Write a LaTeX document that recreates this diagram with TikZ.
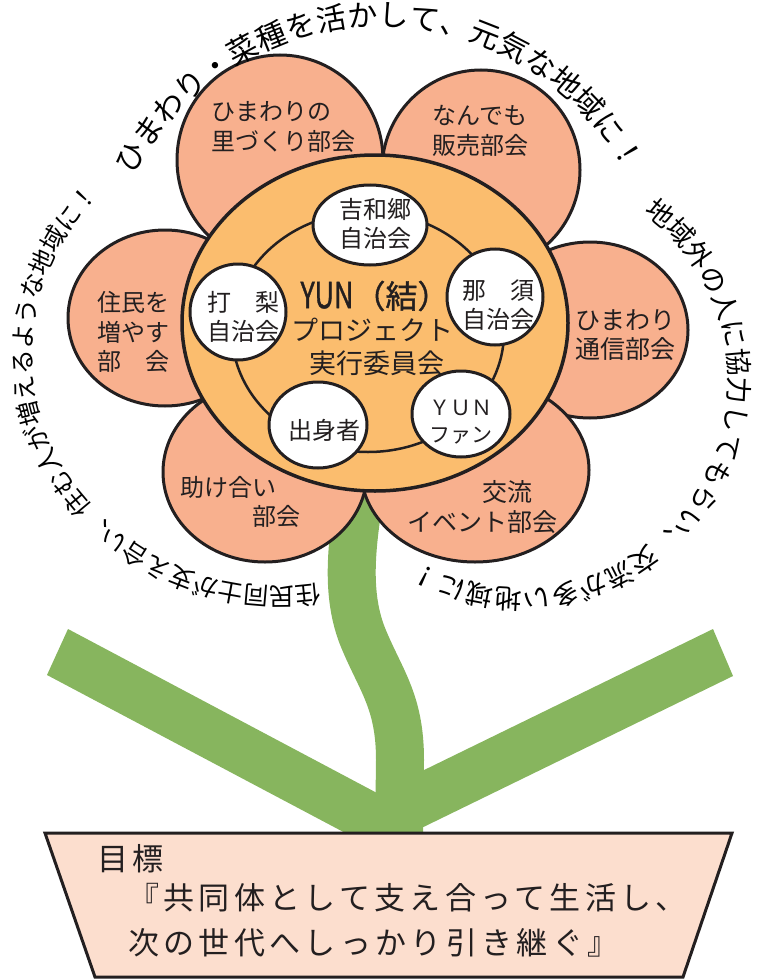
\documentclass[tikz,border=0pt]{standalone}
\usepackage{graphicx}
\usepackage{fontspec}
\setmainfont{Noto Sans CJK JP}
\usetikzlibrary{shapes.geometric}
\usetikzlibrary{decorations.text}
\usetikzlibrary{calc}

\definecolor{petalfill}{HTML}{F8B08E}
\definecolor{diskfill}{HTML}{FBBD6E}
\definecolor{stemgreen}{HTML}{87B55E}
\definecolor{potfill}{HTML}{FCDECE}
\definecolor{inkline}{HTML}{231F20}

\newcommand{\jfs}[2]{\fontsize{#1}{#2}\selectfont}
\newcommand{\toparcfont}{\jfs{30}{30}}
\newcommand{\rightarcfont}{\jfs{27}{27}}
\newcommand{\leftarcfont}{\jfs{25}{25}}
\newcommand{\potfont}{\jfs{31}{45}\addfontfeature{LetterSpace=14}}

\begin{document}
\begin{tikzpicture}[x=1pt, y=-1pt,
    petal/.style={ellipse, draw=inkline, fill=petalfill, line width=3pt, inner sep=0pt},
    disk/.style={ellipse, draw=inkline, fill=diskfill, line width=3.5pt, inner sep=0pt},
    ring/.style={ellipse, draw=inkline, line width=2.5pt, inner sep=0pt},
    member/.style={ellipse, draw=inkline, fill=white, line width=3pt, inner sep=0pt},
    ptext/.style={align=center, inner sep=0pt, text=inkline, font=\jfs{24}{30}},
    mtext/.style={align=center, inner sep=0pt, text=inkline, font=\jfs{24}{29}},
    arctext/.style={decorate, decoration={text along path, text align={fit to path}, raise=#1}}
  ]
  \useasboundingbox (0,0) rectangle (771,979);

  % leaves and stem
  \coordinate (leafLtop) at (68,629);
  \coordinate (leafLbot) at (47,675);
  \coordinate (leafRtop) at (713,629);
  \coordinate (leafRbot) at (733,676);
  \coordinate (notch) at (377,793);
  \coordinate (rootL) at (351,836);
  \coordinate (rootR) at (405,836);
  \fill[stemgreen] (leafLtop) -- (notch) -- (leafRtop) -- (leafRbot) -- (rootR) -- (rootL) -- (leafLbot) -- cycle;

  \coordinate (stemTop) at (362,480);
  \coordinate (stemMid) at (362,635);
  \coordinate (stemFoot) at (399,838);
  \draw[stemgreen, line width=48pt] (stemTop) .. controls (352,540) and (345,590) .. (stemMid)
      .. controls (380,680) and (400,700) .. (400,760) -- (stemFoot);

  % pot
  \coordinate (potTL) at (45,833);
  \coordinate (potTR) at (732,833);
  \coordinate (potBR) at (683,977);
  \coordinate (potBL) at (95,977);
  \draw[draw=inkline, fill=potfill, line width=3pt] (potTL) -- (potTR) -- (potBR) -- (potBL) -- cycle;
  \node[anchor=west, inner sep=0pt, text=inkline, font=\potfont] (goalHead) at (97,859) {目標};
  \node[anchor=west, align=left, inner sep=0pt, text=inkline, font=\potfont] (goalText) at (128,920)
    {『共同体として支え合って生活し、\\次の世代へしっかり引き継ぐ』};

  % petals
  \node[petal, minimum width=194pt, minimum height=176pt] (pJumin) at (165,318) {};
  \node[petal, minimum width=196pt, minimum height=176pt] (pTsushin) at (590,330) {};
  \node[petal, minimum width=206pt, minimum height=210pt] (pSato) at (280,160) {};
  \node[petal, minimum width=198pt, minimum height=200pt] (pHanbai) at (481,170) {};
  \node[petal, minimum width=204pt, minimum height=180pt] (pTasuke) at (265,472) {};
  \node[petal, minimum width=228pt, minimum height=184pt] (pKoryu) at (475,470) {};

  \node[ptext, align=left] (tSato) at (283,127) {ひまわりの\\里づくり部会};
  \node[ptext] (tHanbai) at (480,131) {なんでも\\販売部会};
  \node[ptext, font=\jfs{24}{29.5}] (tJumin) at (133,332) {住民を\\増やす\\部　会};
  \node[ptext, font=\jfs{25}{29}] (tTsushin) at (625,335) {ひまわり\\通信部会};
  \node[ptext, align=left, font=\jfs{24}{29}] (tTasuke) at (240,502) {助け合い\\　　　部会};
  \node[ptext, align=left, font=\jfs{25}{30}] (tKoryu) at (482,507) {　　　交流\\イベント部会};

  % centre disk
  \node[disk, minimum width=386pt, minimum height=336pt] (disk) at (375,323) {};
  \node[ring, minimum width=272pt, minimum height=240pt] (ring) at (368,332) {};

  \node[inner sep=0pt, text=inkline] (tYun) at (375,296)
    {\addfontfeature{FakeBold=1.2}\jfs{36}{36}\scalebox{0.75}[1]{YUN}\jfs{32}{32}（結）};
  \node[inner sep=0pt, text=inkline, font=\jfs{27}{27}] (tProj) at (372,330) {プロジェクト};
  \node[inner sep=0pt, text=inkline, font=\jfs{27}{27}] (tJikko) at (377,363) {実行委員会};

  \node[member, minimum width=114pt, minimum height=80pt] (mYoshi) at (370,225) {};
  \node[member, minimum size=96pt] (mUchi) at (238,312) {};
  \node[member, minimum size=96pt] (mNasu) at (495,297) {};
  \node[member, minimum width=98pt, minimum height=86pt] (mShusshin) at (318,425) {};
  \node[member, minimum width=98pt, minimum height=86pt] (mFan) at (461,414) {};

  \node[mtext] (tYoshi) at (375,224) {吉和郷\\自治会};
  \node[mtext] (tUchi) at (243,317) {打　梨\\自治会};
  \node[mtext] (tNasu) at (498,305) {那　須\\自治会};
  \node[mtext] (tShusshin) at (324,430) {出身者};
  \node[mtext, font=\jfs{21}{27}] (tFan) at (461,422) {ＹＵＮ\\ファン};

  % slogans around the flower
  \coordinate (cTop) at (380,305);
  \coordinate (cRight) at (521,381);
  \coordinate (cLeft) at (280,355);
  \path[arctext=-11pt, decoration={text={|\toparcfont|ひまわり・菜種を活かして、元気な地域に！}}]
    ($(cTop)+(152.2:290pt)$) arc[start angle=152.2, end angle=28.5, radius=290pt];
  \path[arctext=-10pt, decoration={text={|\rightarcfont|地域外の人に協力してもらい、交流が多い地域に！}}]
    ($(cRight)+(54:218pt)$) arc[start angle=54, end angle=-119.6, radius=218pt];
  \path[arctext=-9.5pt, decoration={text={|\leftarcfont|住民同士が支え合い、住む人が増えるような地域に！}}]
    ($(cLeft)+(-81:258pt and 242pt)$) arc[start angle=-81, end angle=-223.5, x radius=258pt, y radius=242pt];
\end{tikzpicture}
\end{document}
